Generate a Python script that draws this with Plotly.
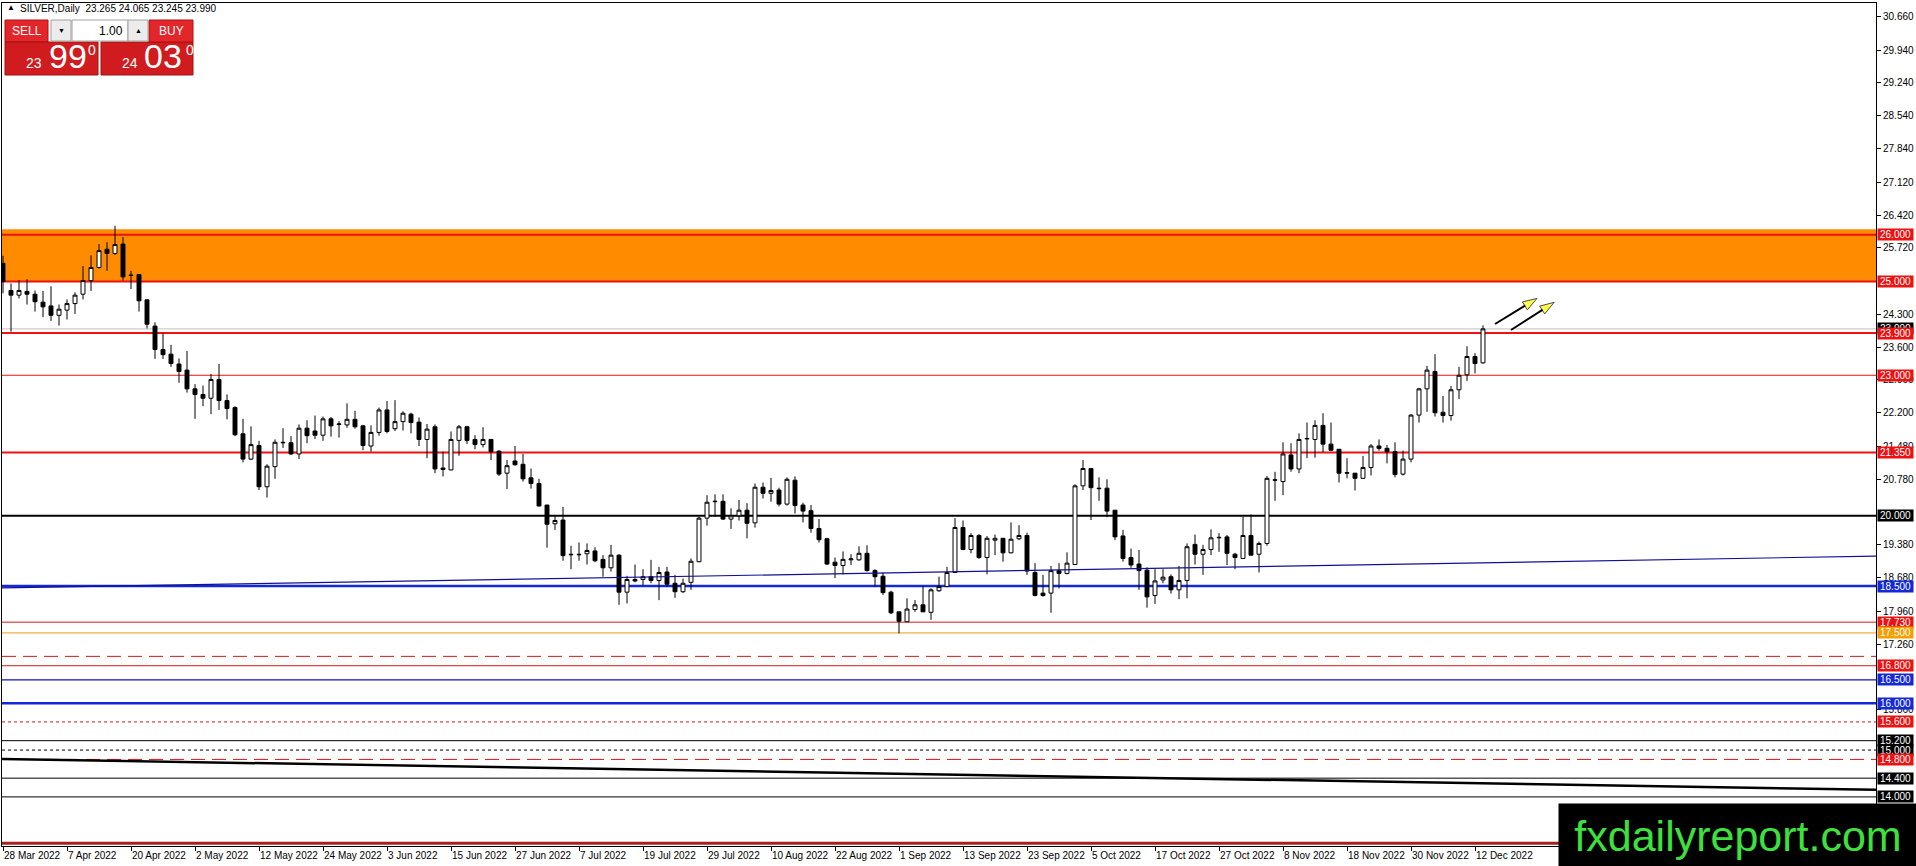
import plotly.graph_objs as go

# ---- data (SILVER daily, 28 Mar 2022 - 13 Dec 2022) ----
opens = [
    25.39, 24.81, 24.71, 24.79, 24.73, 24.56, 24.48, 24.28, 24.39, 24.53,
    24.73, 25.02, 25.30, 25.69, 25.60, 25.80, 25.14, 25.15, 24.61, 24.05,
    23.55, 23.45, 23.24, 23.11, 22.71, 22.59, 22.51, 22.91, 22.46, 22.31,
    21.75, 21.21, 21.50, 20.62, 21.05, 21.57, 21.56, 21.32, 21.87, 21.81,
    21.72, 22.07, 21.95, 21.94, 22.06, 21.92, 21.49, 21.78, 22.26, 21.86,
    22.01, 22.17, 22.00, 21.63, 21.90, 21.02, 20.98, 21.61, 21.90, 21.63,
    21.52, 21.63, 21.38, 20.91, 21.17, 21.10, 20.81, 20.69, 20.23, 19.83,
    19.91, 19.18, 19.18, 19.19, 19.25, 19.07, 18.89, 19.16, 18.37, 18.64,
    18.64, 18.70, 18.62, 18.80, 18.56, 18.38, 18.58, 19.02, 19.95, 20.30,
    20.31, 19.93, 20.00, 20.12, 19.85, 20.61, 20.48, 20.55, 20.25, 20.76,
    20.23, 20.11, 19.73, 19.51, 19.01, 18.94, 19.06, 19.06, 19.20, 18.83,
    18.71, 18.37, 17.95, 17.74, 18.00, 18.10, 17.94, 18.40, 18.49, 18.79,
    19.75, 19.28, 19.58, 19.11, 19.48, 19.52, 19.21, 19.51, 19.58, 18.79,
    18.35, 18.35, 18.83, 18.77, 18.96, 20.64, 21.01, 20.59, 20.59, 20.12,
    19.57, 19.11, 18.97, 18.84, 18.30, 18.63, 18.70, 18.42, 18.62, 19.39,
    19.18, 19.28, 19.53, 19.55, 19.18, 19.09, 19.58, 19.18, 19.41, 20.77,
    20.73, 21.30, 21.00, 21.64, 21.63, 21.93, 21.53, 21.42, 20.91, 20.91,
    20.80, 21.03, 21.49, 21.44, 21.37, 20.89, 21.21, 22.15, 22.71, 23.08,
    22.21, 22.14, 22.69, 23.01, 23.40, 23.265,
]
highs = [
    25.55, 24.96, 25.03, 25.05, 24.81, 24.80, 24.90, 24.51, 24.62, 24.77,
    25.33, 25.56, 25.80, 25.84, 26.19, 25.95, 25.23, 25.16, 24.62, 24.13,
    23.89, 23.65, 23.36, 23.52, 22.81, 22.78, 23.03, 23.24, 22.59, 22.34,
    22.07, 21.91, 21.60, 21.10, 21.63, 21.87, 21.70, 21.95, 22.04, 22.14,
    22.12, 22.11, 22.02, 22.40, 22.24, 21.94, 21.93, 22.31, 22.45, 22.47,
    22.23, 22.20, 22.10, 21.96, 21.95, 21.37, 21.80, 21.94, 21.92, 21.72,
    21.89, 21.63, 21.40, 21.19, 21.49, 21.32, 21.01, 20.79, 20.23, 20.00,
    20.19, 19.36, 19.43, 19.41, 19.33, 19.16, 19.38, 19.18, 18.72, 18.96,
    18.86, 19.06, 18.91, 18.91, 18.74, 18.66, 19.09, 19.98, 20.44, 20.46,
    20.46, 20.16, 20.34, 20.27, 20.69, 20.71, 20.81, 20.60, 20.82, 20.84,
    20.28, 20.23, 19.93, 19.53, 19.11, 19.24, 19.18, 19.35, 19.37, 18.86,
    18.79, 18.40, 17.95, 18.24, 18.20, 18.50, 18.45, 18.70, 18.91, 19.95,
    19.90, 19.63, 19.61, 19.57, 19.60, 19.52, 19.86, 19.80, 19.64, 18.99,
    18.74, 18.93, 18.99, 19.22, 20.67, 21.19, 21.02, 20.82, 20.78, 20.12,
    19.70, 19.30, 19.27, 18.90, 18.86, 18.86, 18.75, 18.93, 19.41, 19.60,
    19.38, 19.71, 19.63, 19.59, 19.21, 19.98, 20.03, 19.45, 20.85, 20.94,
    21.57, 21.55, 21.76, 21.99, 22.04, 22.19, 21.99, 21.42, 21.23, 20.91,
    21.28, 21.53, 21.63, 21.51, 21.57, 21.39, 22.17, 22.73, 23.20, 23.45,
    22.56, 22.77, 23.18, 23.62, 23.47, 24.065,
]
lows = [
    24.75, 23.93, 24.64, 24.51, 24.36, 24.24, 24.16, 24.06, 24.19, 24.31,
    24.62, 24.80, 25.28, 25.23, 25.57, 25.02, 24.84, 24.36, 24.00, 23.35,
    23.35, 23.18, 22.84, 22.63, 22.07, 22.34, 22.17, 22.26, 22.06, 21.70,
    21.14, 21.19, 20.55, 20.39, 20.79, 21.45, 21.30, 21.21, 21.55, 21.64,
    21.60, 21.69, 21.67, 21.88, 21.86, 21.40, 21.37, 21.71, 21.76, 21.81,
    21.82, 21.76, 21.49, 21.23, 20.91, 20.84, 20.97, 21.28, 21.53, 21.42,
    21.46, 21.19, 20.85, 20.57, 21.07, 20.73, 20.58, 20.20, 19.32, 19.70,
    19.04, 18.86, 19.04, 18.96, 19.01, 18.70, 18.81, 18.10, 18.13, 18.58,
    18.52, 18.56, 18.20, 18.49, 18.25, 18.35, 18.42, 19.01, 19.79, 19.98,
    19.91, 19.72, 19.90, 19.52, 19.75, 20.37, 20.30, 20.20, 20.22, 20.05,
    19.86, 19.64, 19.43, 18.95, 18.67, 18.75, 18.95, 19.04, 18.81, 18.49,
    18.31, 17.90, 17.49, 17.74, 17.95, 17.95, 17.78, 18.38, 18.48, 18.78,
    19.27, 19.20, 19.08, 18.75, 19.16, 19.02, 19.20, 19.48, 18.74, 18.28,
    18.27, 17.93, 18.45, 18.75, 18.95, 20.55, 19.91, 20.32, 19.97, 19.48,
    19.02, 18.89, 18.42, 18.04, 18.12, 18.56, 18.34, 18.22, 18.24, 18.96,
    18.74, 19.16, 19.23, 18.95, 18.86, 19.09, 19.16, 18.79, 19.36, 20.32,
    20.44, 20.94, 20.91, 21.23, 21.24, 21.36, 21.38, 20.71, 20.80, 20.54,
    20.79, 20.86, 21.39, 21.12, 20.82, 20.86, 21.14, 21.99, 22.22, 22.12,
    21.99, 22.03, 22.49, 22.88, 23.04, 23.245,
]
closes = [
    25.00, 24.71, 24.81, 24.73, 24.57, 24.46, 24.28, 24.41, 24.53, 24.71,
    25.02, 25.30, 25.66, 25.60, 25.79, 25.10, 25.13, 24.59, 24.09, 23.55,
    23.44, 23.25, 23.08, 22.71, 22.59, 22.51, 22.91, 22.46, 22.29, 21.73,
    21.21, 21.52, 20.62, 21.06, 21.57, 21.56, 21.32, 21.87, 21.71, 21.72,
    22.07, 21.92, 21.96, 22.06, 21.90, 21.50, 21.78, 22.26, 21.80, 22.01,
    22.19, 21.99, 21.63, 21.85, 21.00, 20.99, 21.63, 21.90, 21.61, 21.52,
    21.63, 21.37, 20.89, 21.07, 21.09, 20.79, 20.69, 20.21, 19.82, 19.90,
    19.15, 19.17, 19.17, 19.26, 19.04, 18.89, 19.16, 18.37, 18.64, 18.61,
    18.70, 18.62, 18.79, 18.54, 18.38, 18.56, 19.03, 19.95, 20.29, 20.31,
    19.93, 20.00, 20.12, 19.84, 20.61, 20.48, 20.54, 20.25, 20.78, 20.22,
    20.10, 19.73, 19.49, 18.97, 18.94, 19.07, 19.08, 19.20, 18.83, 18.70,
    18.36, 17.93, 17.75, 18.01, 18.10, 17.95, 18.42, 18.49, 18.79, 19.75,
    19.28, 19.58, 19.11, 19.52, 19.52, 19.21, 19.50, 19.58, 18.82, 18.30,
    18.30, 18.83, 18.77, 18.99, 20.64, 21.01, 20.60, 20.58, 20.10, 19.55,
    19.09, 18.95, 18.83, 18.27, 18.61, 18.69, 18.42, 18.62, 19.34, 19.18,
    19.28, 19.53, 19.54, 19.20, 19.11, 19.58, 19.16, 19.41, 20.80, 20.76,
    21.32, 21.00, 21.63, 21.65, 21.93, 21.53, 21.40, 20.91, 20.92, 20.80,
    21.03, 21.49, 21.44, 21.37, 20.88, 21.21, 22.15, 22.71, 23.11, 22.20,
    22.14, 22.69, 23.00, 23.40, 23.25, 23.99,
]

date_labels = [
    "28 Mar 2022", "7 Apr 2022", "20 Apr 2022", "2 May 2022", "12 May 2022",
    "24 May 2022", "3 Jun 2022", "15 Jun 2022", "27 Jun 2022", "7 Jul 2022",
    "19 Jul 2022", "29 Jul 2022", "10 Aug 2022", "22 Aug 2022", "1 Sep 2022",
    "13 Sep 2022", "23 Sep 2022", "5 Oct 2022", "17 Oct 2022", "27 Oct 2022",
    "8 Nov 2022", "18 Nov 2022", "30 Nov 2022", "12 Dec 2022",
]
# axis ticks that are not hidden under the level labels
price_ticks = [
    "30.660", "29.940", "29.240", "28.540", "27.840", "27.120", "26.420",
    "25.720", "24.300", "23.600", "22.900", "22.200", "21.480", "20.780",
    "19.380", "18.680", "17.960", "17.260", "15.860",
]

# horizontal levels drawn on the chart
levels = [26.0, 25.0, 23.9, 23.0, 21.35, 20.0, 18.5, 17.73, 17.5, 17.0,
          16.8, 16.5, 16.0, 15.6, 15.2, 15.0, 14.8, 14.4, 14.0]
zone = [25.0, 26.115]          # orange supply zone
bid = 23.99
blue_trend = [18.46, 19.14]    # left / right end values
black_trend = [14.81, 14.15]
header = "SILVER,Daily  23.265 24.065 23.245 23.990"

RED = "#ee1111"
BLUE = "#1428d8"
LEVEL_STYLE = {
    26.0: (RED, 2, "solid", RED),
    25.0: (RED, 2, "solid", RED),
    23.9: (RED, 2, "solid", RED),
    23.0: (RED, 1, "solid", RED),
    21.35: (RED, 2, "solid", RED),
    20.0: ("black", 2, "solid", "black"),
    18.5: (BLUE, 2.5, "solid", BLUE),
    17.73: ("#d01818", 1, "solid", RED),
    17.5: ("#f0b040", 1.2, "solid", "#f5a000"),
    17.0: ("#d01818", 1, "14px,7px", None),
    16.8: ("#d01818", 1, "solid", RED),
    16.5: ("#1010c0", 1.3, "solid", BLUE),
    16.0: (BLUE, 2.5, "solid", BLUE),
    15.6: ("#d01818", 1, "dot", RED),
    15.2: ("black", 1, "solid", "black"),
    15.0: ("black", 1, "dot", "black"),
    14.8: ("#d01818", 1, "14px,7px", RED),
    14.4: ("black", 1, "solid", "black"),
    14.0: ("black", 1, "solid", "black"),
}

# ---- page geometry (pixels) ----
W, H = 1916, 866
L, R, T, B = 2, 40, 3, 20
X0, X1 = -0.125, 234.125
Y0, Y1 = 12.952, 30.946
PW, PH = W - L - R, H - T - B


def px(x):
    return (x - L) / PW


def py(y):
    return 1 - (y - T) / PH


idx = list(range(len(closes)))

fig = go.Figure()

fig.add_trace(go.Candlestick(
    x=idx, open=opens, high=highs, low=lows, close=closes,
    increasing=dict(line=dict(color="black", width=1), fillcolor="white"),
    decreasing=dict(line=dict(color="black", width=1), fillcolor="black"),
    whiskerwidth=0, hoverinfo="skip", showlegend=False,
))

# trend lines
fig.add_trace(go.Scatter(x=[X0, X1], y=blue_trend, mode="lines",
                         line=dict(color="#101098", width=1.2),
                         hoverinfo="skip", showlegend=False))
fig.add_trace(go.Scatter(x=[X0, X1], y=black_trend, mode="lines",
                         line=dict(color="black", width=2.5),
                         hoverinfo="skip", showlegend=False))

# the two arrows pointing up
arrows = [([186.5, 191.75], [24.094, 24.64]), ([188.5, 193.9], [23.966, 24.557])]
for ax_, ay_ in arrows:
    fig.add_trace(go.Scatter(
        x=ax_, y=ay_, mode="lines+markers",
        line=dict(color="black", width=2),
        marker=dict(symbol="arrow", size=[0, 15], angleref="previous",
                    color="#ffff00", line=dict(color="black", width=1)),
        hoverinfo="skip", showlegend=False,
    ))

shapes = [
    dict(type="rect", xref="paper", yref="y", x0=0, x1=1, y0=zone[0], y1=zone[1],
         fillcolor="#ff8c00", line=dict(width=0), layer="below"),
    dict(type="line", xref="paper", yref="y", x0=0, x1=1, y0=bid, y1=bid,
         line=dict(color="#c0c0c0", width=1), layer="below"),
    dict(type="line", xref="paper", yref="y", x0=0, x1=1, y0=13.01, y1=13.01,
         line=dict(color="#a82020", width=3), layer="below"),
]
for lv in levels:
    color, width, dash, _ = LEVEL_STYLE[lv]
    shapes.append(dict(type="line", xref="paper", yref="y", x0=0, x1=1,
                       y0=lv, y1=lv, line=dict(color=color, width=width, dash=dash),
                       layer="below"))


# one-click trading panel
def box(x0, y0, x1, y1, fill, line="rgba(0,0,0,0)"):
    return dict(type="rect", xref="paper", yref="paper",
                x0=px(x0), x1=px(x1), y0=py(y1), y1=py(y0),
                fillcolor=fill, line=dict(color=line, width=1), layer="above")


shapes += [
    box(5, 20, 48, 42, "#e2262a", "#b01010"),
    box(5, 42, 98, 75, "#d01c1e", "#a01010"),
    box(101, 42, 193, 75, "#d01c1e", "#a01010"),
    box(149, 20, 193, 42, "#e2262a", "#b01010"),
    box(51, 20, 71, 41, "#ececec", "#a0a0a0"),
    box(72, 20, 128, 41, "white", "#a0a0a0"),
    box(128, 20, 148, 41, "#ececec", "#a0a0a0"),
]

FONT = "Liberation Sans, Arial, sans-serif"
ann = []


def text(x, y, s, size, color="white", xanchor="center"):
    ann.append(dict(xref="paper", yref="paper", x=px(x), y=py(y), text=s,
                    showarrow=False, xanchor=xanchor, yanchor="middle",
                    font=dict(family=FONT, size=size, color=color)))


text(5, 8, "▲", 8, "black", "left")
text(18, 8.5, header, 10, "black", "left")
text(26.5, 31, "SELL", 12)
text(171, 31, "BUY", 12)
text(61, 30.5, "▼", 7, "black")
text(138, 30.5, "▲", 7, "black")
text(125, 31, "1.00", 12, "black", "right")
text(33.5, 63, "23", 14)
text(68, 56, "99", 34)
text(92, 50, "0", 14)
text(130, 63, "24", 14)
text(163, 56, "03", 34)
text(190, 50, "0", 14)


# price labels at the right edge
def price_label(v, bg):
    ann.append(dict(xref="paper", yref="y", x=1, y=v, xanchor="left", xshift=1,
                    text=f"{v:.3f}", showarrow=False, bgcolor=bg, borderpad=0,
                    width=35, height=11,
                    font=dict(family=FONT, size=10, color="white")))


price_label(bid, "black")
for lv in levels:
    bg = LEVEL_STYLE[lv][3]
    if bg:
        price_label(lv, bg)

# watermark
ann.append(dict(xref="paper", yref="paper", x=px(1558), y=py(803),
                xanchor="left", yanchor="top", text="fxdailyreport.com",
                showarrow=False, bgcolor="black", borderpad=0,
                width=W - 1558, height=H - 803,
                font=dict(family=FONT, size=43, color="#3ee03e")))

fig.update_layout(
    width=W, height=H,
    margin=dict(l=L, r=R, t=T, b=B),
    paper_bgcolor="white", plot_bgcolor="white",
    showlegend=False, hovermode=False,
    shapes=shapes, annotations=ann,
    font=dict(family=FONT, size=10, color="black"),
    xaxis=dict(
        range=[X0, X1], tickmode="array",
        tickvals=[i * 8 for i in range(len(date_labels))], ticktext=date_labels,
        ticks="outside", ticklen=4, tickcolor="black", tickangle=0,
        ticklabelposition="outside right",
        showgrid=False, zeroline=False, showline=True, linecolor="black",
        linewidth=1, mirror=True, rangeslider=dict(visible=False),
        tickfont=dict(family=FONT, size=10, color="black"), fixedrange=True,
    ),
    yaxis=dict(
        range=[Y0, Y1], side="right", tickmode="array",
        tickvals=[float(t) for t in price_ticks], ticktext=price_ticks,
        ticks="outside", ticklen=4, tickcolor="black",
        showgrid=False, zeroline=False, showline=True, linecolor="black",
        linewidth=1, mirror=True,
        tickfont=dict(family=FONT, size=10, color="black"), fixedrange=True,
    ),
)

fig.write_html("out.html", config={"displayModeBar": False},
               post_script="document.body.style.margin='0';"
                           "document.body.style.overflow='hidden';")
